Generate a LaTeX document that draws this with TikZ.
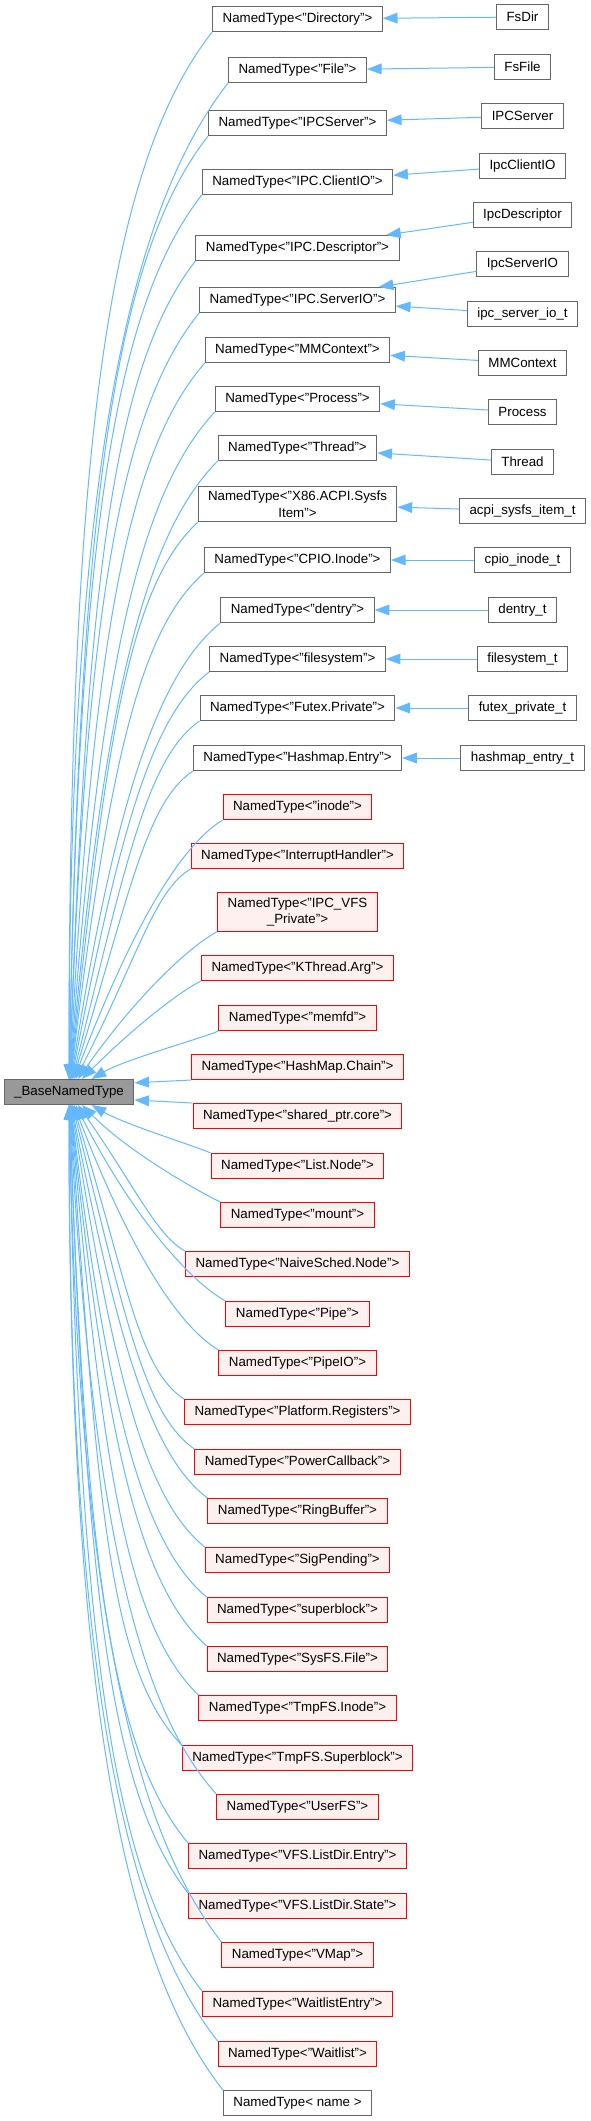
\documentclass[tikz,border=0pt]{standalone}
\usepackage{fontspec}
\setmainfont{Liberation Sans}
\usepackage{tikz}
\usepackage{xcolor}
\usetikzlibrary{arrows.meta}

\definecolor{linkblue}{HTML}{63B8FF}
\definecolor{boxgray}{HTML}{666666}
\definecolor{basefill}{HTML}{999999}
\definecolor{redfill}{HTML}{FFF0F0}

\begin{document}
\begin{tikzpicture}[x=0.75pt, y=-0.75pt,
    box/.style={rectangle, draw=boxgray, fill=white, line width=0.75pt, inner xsep=7.5pt, inner ysep=3.5pt,
        minimum height=18.75pt, align=center, font=\fontsize{10}{12.5}\selectfont},
    redbox/.style={box, draw=red, fill=redfill},
    link/.style={draw=linkblue, line width=0.75pt, -{Triangle[length=11pt, width=8pt]}}]

    \useasboundingbox (0,0) rectangle (591,2121);

    % Base class
    \node[box, fill=basefill] (base) at (69,1092) {\_BaseNamedType};

    % Documented instances
    \node[box] (dir) at (297.5,19) {NamedType<"Directory">};
    \node[box] (file) at (297.5,70) {NamedType<"File">};
    \node[box] (ipcsrv) at (297.5,123) {NamedType<"IPCServer">};
    \node[box] (clientio) at (297.5,182) {NamedType<"IPC.ClientIO">};
    \node[box] (desc) at (297.5,248) {NamedType<"IPC.Descriptor">};
    \node[box] (serverio) at (297.5,300) {NamedType<"IPC.ServerIO">};
    \node[box] (mmctx) at (297.5,350) {NamedType<"MMContext">};
    \node[box] (proc) at (297.5,399) {NamedType<"Process">};
    \node[box] (thread) at (297.5,448) {NamedType<"Thread">};
    \node[box] (acpi) at (297.5,504) {NamedType<"X86.ACPI.Sysfs\\Item">};
    \node[box] (cpio) at (297.5,560) {NamedType<"CPIO.Inode">};
    \node[box] (dentry) at (297.5,610) {NamedType<"dentry">};
    \node[box] (fs) at (297.5,659) {NamedType<"filesystem">};
    \node[box] (futex) at (297.5,708) {NamedType<"Futex.Private">};
    \node[box] (hashent) at (297.5,758) {NamedType<"Hashmap.Entry">};

    % Undocumented instances
    \node[redbox] (inode) at (297.5,807) {NamedType<"inode">};
    \node[redbox] (irq) at (297.5,856) {NamedType<"InterruptHandler">};
    \node[redbox] (ipcvfs) at (297.5,912) {NamedType<"IPC\_VFS\\\_Private">};
    \node[redbox] (kthread) at (297.5,968) {NamedType<"KThread.Arg">};
    \node[redbox] (memfd) at (297.5,1018) {NamedType<"memfd">};
    \node[redbox] (hmchain) at (297.5,1067) {NamedType<"HashMap.Chain">};
    \node[redbox] (shared) at (297.5,1116) {NamedType<"shared\_ptr.core">};
    \node[redbox] (listnode) at (297.5,1166) {NamedType<"List.Node">};
    \node[redbox] (mount) at (297.5,1215) {NamedType<"mount">};
    \node[redbox] (naive) at (297.5,1264) {NamedType<"NaiveSched.Node">};
    \node[redbox] (pipe) at (297.5,1314) {NamedType<"Pipe">};
    \node[redbox] (pipeio) at (297.5,1363) {NamedType<"PipeIO">};
    \node[redbox] (regs) at (297.5,1412) {NamedType<"Platform.Registers">};
    \node[redbox] (power) at (297.5,1462) {NamedType<"PowerCallback">};
    \node[redbox] (ring) at (297.5,1511) {NamedType<"RingBuffer">};
    \node[redbox] (sig) at (297.5,1560) {NamedType<"SigPending">};
    \node[redbox] (sblock) at (297.5,1610) {NamedType<"superblock">};
    \node[redbox] (sysfs) at (297.5,1659) {NamedType<"SysFS.File">};
    \node[redbox] (tmpinode) at (297.5,1708) {NamedType<"TmpFS.Inode">};
    \node[redbox] (tmpsuper) at (297.5,1758) {NamedType<"TmpFS.Superblock">};
    \node[redbox] (userfs) at (297.5,1807) {NamedType<"UserFS">};
    \node[redbox] (vfsentry) at (297.5,1856) {NamedType<"VFS.ListDir.Entry">};
    \node[redbox] (vfsstate) at (297.5,1906) {NamedType<"VFS.ListDir.State">};
    \node[redbox] (vmap) at (297.5,1955) {NamedType<"VMap">};
    \node[redbox] (waitentry) at (297.5,2004) {NamedType<"WaitlistEntry">};
    \node[redbox] (waitlist) at (297.5,2054) {NamedType<"Waitlist">};
    \node[box] (generic) at (297.5,2103) {NamedType< name >};

    % Derived types
    \node[box] (fsdir) at (522.5,17) {FsDir};
    \node[box] (fsfile) at (522.5,67) {FsFile};
    \node[box] (ipcserver) at (522.5,116) {IPCServer};
    \node[box] (ipcclient) at (522.5,166) {IpcClientIO};
    \node[box] (ipcdesc) at (522.5,215) {IpcDescriptor};
    \node[box] (ipcsrvio) at (522.5,264) {IpcServerIO};
    \node[box] (srviot) at (522.5,314) {ipc\_server\_io\_t};
    \node[box] (mmcontext) at (522.5,363) {MMContext};
    \node[box] (process) at (522.5,412) {Process};
    \node[box] (threadcls) at (522.5,462) {Thread};
    \node[box] (acpiitem) at (522.5,511) {acpi\_sysfs\_item\_t};
    \node[box] (cpioinode) at (522.5,560) {cpio\_inode\_t};
    \node[box] (dentryt) at (522.5,610) {dentry\_t};
    \node[box] (fst) at (522.5,659) {filesystem\_t};
    \node[box] (futext) at (522.5,708) {futex\_private\_t};
    \node[box] (hashentt) at (522.5,758) {hashmap\_entry\_t};

    \draw[link] (fsdir) -- (dir);
    \draw[link] (fsfile) -- (file);
    \draw[link] (ipcserver) -- (ipcsrv);
    \draw[link] (ipcclient) -- (clientio);
    \draw[link] (ipcdesc) -- (desc);
    \draw[link] (ipcsrvio) -- (serverio);
    \draw[link] (srviot) -- (serverio);
    \draw[link] (mmcontext) -- (mmctx);
    \draw[link] (process) -- (proc);
    \draw[link] (threadcls) -- (thread);
    \draw[link] (acpiitem) -- (acpi);
    \draw[link] (cpioinode) -- (cpio);
    \draw[link] (dentryt) -- (dentry);
    \draw[link] (fst) -- (fs);
    \draw[link] (futext) -- (futex);
    \draw[link] (hashentt) -- (hashent);

    % Instances above the base
    \draw[link] (dir.south west) to[out=232, in=90, out distance=125.5pt, in distance=479.3pt] (base);
    \draw[link] (file.south west) to[out=232, in=90, out distance=119.7pt, in distance=456.4pt] (base);
    \draw[link] (ipcsrv.south west) to[out=232, in=89, out distance=113.8pt, in distance=432.5pt] (base);
    \draw[link] (clientio.south west) to[out=232, in=89, out distance=107.1pt, in distance=406pt] (base);
    \draw[link] (desc.south west) to[out=232, in=88, out distance=99.7pt, in distance=376.3pt] (base);
    \draw[link] (serverio.south west) to[out=231, in=88, out distance=93.8pt, in distance=352.9pt] (base);
    \draw[link] (mmctx.south west) to[out=229, in=87, out distance=88.2pt, in distance=330.4pt] (base);
    \draw[link] (proc.south west) to[out=227, in=86, out distance=82.7pt, in distance=308.3pt] (base);
    \draw[link] (thread.south west) to[out=225, in=85, out distance=77.2pt, in distance=286.3pt] (base);
    \draw[link] (acpi.south west) to[out=223, in=84, out distance=70.1pt, in distance=257.9pt] (base);
    \draw[link] (cpio.south west) to[out=221, in=83, out distance=64.6pt, in distance=235.9pt] (base);
    \draw[link] (dentry.south west) to[out=219, in=81, out distance=59pt, in distance=213.4pt] (base);
    \draw[link] (fs.south west) to[out=217, in=79, out distance=53.5pt, in distance=191.3pt] (base);
    \draw[link] (futex.south west) to[out=215, in=76, out distance=47.9pt, in distance=169.3pt] (base);
    \draw[link] (hashent.south west) to[out=214, in=73, out distance=42.3pt, in distance=146.8pt] (base);
    \draw[link] (inode.south west) to[out=212, in=69, out distance=36.8pt, in distance=124.7pt] (base);
    \draw[link] (irq.south west) to[out=210, in=63, out distance=31.3pt, in distance=102.7pt] (base);
    \draw[link] (ipcvfs.south west) to[out=208, in=55, out distance=24.2pt, in distance=74.3pt] (base);
    \draw[link] (kthread.south west) to[out=206, in=45, out distance=18.7pt, in distance=52.3pt] (base);
    \draw[link] (memfd.south west) to[out=204, in=30, out distance=13.1pt, in distance=29.8pt] (base);

    % Instances level with the base
    \draw[link] (hmchain.south west) -- (base.8);
    \draw[link] (shared.north west) -- (base.353);

    % Instances below the base
    \draw[link] (listnode.north west) to[out=156, in=330, out distance=13pt, in distance=29.3pt] (base);
    \draw[link] (mount.north west) to[out=154, in=315, out distance=18.5pt, in distance=51.4pt] (base);
    \draw[link] (naive.north west) to[out=152, in=305, out distance=24pt, in distance=73.4pt] (base);
    \draw[link] (pipe.north west) to[out=151, in=297, out distance=29.6pt, in distance=95.9pt] (base);
    \draw[link] (pipeio.north west) to[out=149, in=291, out distance=35.1pt, in distance=118pt] (base);
    \draw[link] (regs.north west) to[out=147, in=287, out distance=40.6pt, in distance=140pt] (base);
    \draw[link] (power.north west) to[out=145, in=284, out distance=46.3pt, in distance=162.5pt] (base);
    \draw[link] (ring.north west) to[out=143, in=281, out distance=51.8pt, in distance=184.6pt] (base);
    \draw[link] (sig.north west) to[out=141, in=279, out distance=57.3pt, in distance=206.6pt] (base);
    \draw[link] (sblock.north west) to[out=140, in=277, out distance=62.9pt, in distance=229.1pt] (base);
    \draw[link] (sysfs.north west) to[out=138, in=276, out distance=68.4pt, in distance=251.2pt] (base);
    \draw[link] (tmpinode.north west) to[out=136, in=275, out distance=73.9pt, in distance=273.2pt] (base);
    \draw[link] (tmpsuper.north west) to[out=134, in=274, out distance=79.6pt, in distance=295.7pt] (base);
    \draw[link] (userfs.north west) to[out=132, in=273, out distance=85.1pt, in distance=317.8pt] (base);
    \draw[link] (vfsentry.north west) to[out=130, in=272, out distance=90.6pt, in distance=339.8pt] (base);
    \draw[link] (vfsstate.north west) to[out=128, in=272, out distance=96.2pt, in distance=362.3pt] (base);
    \draw[link] (vmap.north west) to[out=128, in=271, out distance=101.7pt, in distance=384.4pt] (base);
    \draw[link] (waitentry.north west) to[out=128, in=271, out distance=107.2pt, in distance=406.4pt] (base);
    \draw[link] (waitlist.north west) to[out=128, in=270, out distance=112.8pt, in distance=428.9pt] (base);
    \draw[link] (generic.north west) to[out=128, in=270, out distance=118.4pt, in distance=451pt] (base);
\end{tikzpicture}
\end{document}
